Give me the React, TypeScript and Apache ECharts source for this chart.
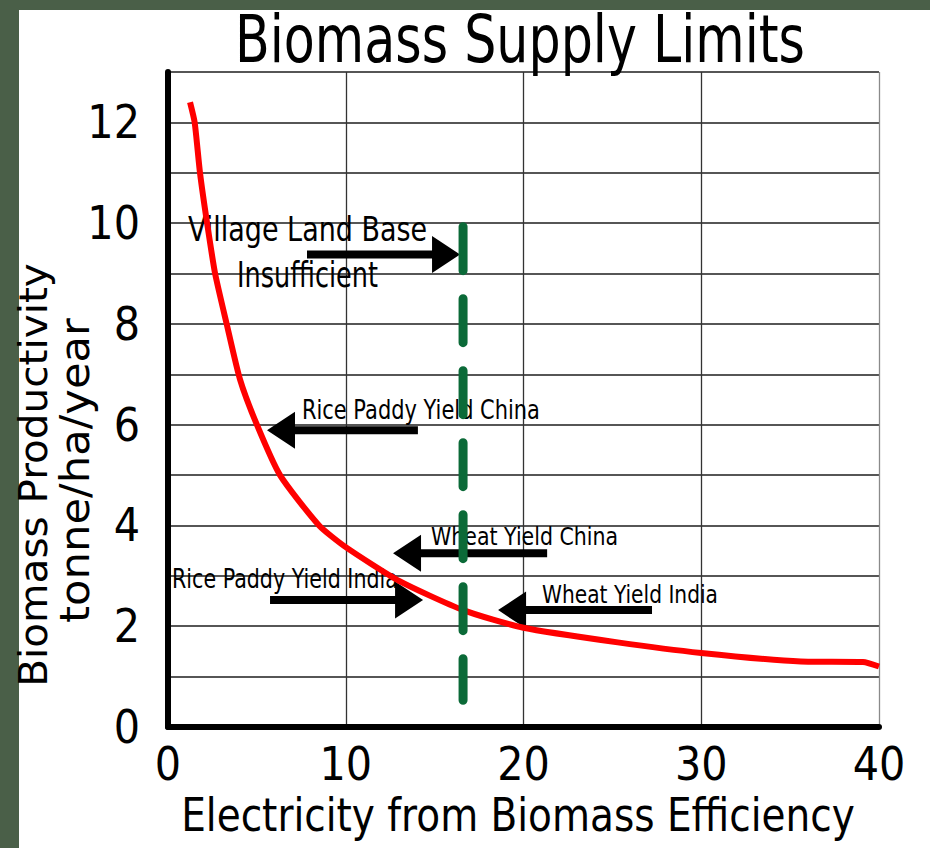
import { useEffect, useRef } from "react";
import * as echarts from "echarts";

// ---- data ----
const xTicks = [0, 10, 20, 30, 40];
const yTickLabels = [0, 2, 4, 6, 8, 10, 12];
const curveX = [1.24, 1.5, 1.8, 2.2, 2.65, 3.3, 4.05, 5.0, 6.3, 8.5, 10, 13, 16.6, 20, 25.3, 30, 35.6, 39.1, 40];
const curveY = [12.4, 12.0, 11.0, 10.0, 9.0, 8.0, 6.9, 6.0, 5.0, 4.0, 3.57, 2.9, 2.32, 1.97, 1.68, 1.47, 1.3, 1.29, 1.2];
const limitX = 16.6;
const limitY = [9.93, 0.53];
const arrowTailX = [7.82, 14.06, 21.33, 5.74, 27.23];
const arrowTipX = [16.43, 5.57, 12.66, 14.35, 18.57];
const arrowY = [9.38, 5.89, 3.45, 2.52, 2.32];
const noteText = [
  "Village Land Base",
  "Insufficient",
  "Rice Paddy Yield China",
  "Wheat Yield China",
  "Rice Paddy Yield India",
  "Wheat Yield India",
];
const noteX = [7.85, 7.85, 14.23, 20.06, 6.58, 25.99];
const noteY = [9.874, 8.97, 6.28, 3.78, 2.93, 2.64];

// ---- styles ----
const noteSize = [34, 35, 26, 25, 26, 25];
const noteWidth = [239, 141, 238, 187, 226, 176];
const FAMILY = "'DejaVu Sans', sans-serif";
const TICK_FAMILY = "'Liberation Sans Narrow', 'DejaVu Sans Condensed', 'Liberation Sans', sans-serif";

let ctx: CanvasRenderingContext2D | null = null;
function fit(text: string, size: number, width: number): number {
  if (!ctx) ctx = document.createElement("canvas").getContext("2d");
  if (!ctx) return 1;
  ctx.font = `${size}px ${FAMILY}`;
  const w = ctx.measureText(text).width;
  return w > 0 ? width / w : 1;
}

function textEl(text: string, x: number, y: number, size: number, width: number, rotation = 0) {
  return {
    type: "text",
    x,
    y,
    rotation,
    scaleX: fit(text, size, width),
    z: 100,
    silent: true,
    style: {
      text,
      font: `${size}px ${FAMILY}`,
      fill: "#000",
      align: "center",
      verticalAlign: "middle",
    },
  };
}

export default function App() {
  const ref = useRef<HTMLDivElement>(null);
  useEffect(() => {
    document.body.style.margin = "0";
    if (!ref.current) return;
    const chart = echarts.init(ref.current, null, { renderer: "svg" });
    const option: any = {
      animation: false,
      backgroundColor: "#4a5f48",
      grid: { left: 168, top: 72, right: 51, bottom: 121, containLabel: false },
      xAxis: {
        type: "value",
        min: xTicks[0],
        max: xTicks[xTicks.length - 1],
        interval: 10,
        axisLine: { show: true, onZero: false, lineStyle: { color: "#000", width: 6 } },
        axisTick: { show: false },
        axisLabel: {
          color: "#000",
          fontFamily: TICK_FAMILY,
          fontSize: 46,
          margin: 14,
        },
        splitLine: {
          show: true,
          lineStyle: { color: ["#333", "#333", "#333", "#333", "#8a8a8a"], width: 1.3 },
        },
      },
      yAxis: {
        type: "value",
        min: 0,
        max: 13,
        interval: 1,
        axisLine: { show: true, onZero: false, lineStyle: { color: "#000", width: 6 } },
        axisTick: { show: false },
        axisLabel: {
          color: "#000",
          fontFamily: TICK_FAMILY,
          fontSize: 46,
          margin: 28,
          formatter: (v: number) => (yTickLabels.indexOf(v) >= 0 ? String(v) : ""),
        },
        splitLine: { show: true, lineStyle: { color: "#1e1e1e", width: 1.5 } },
      },
      graphic: [
        {
          type: "rect",
          z: -100,
          silent: true,
          shape: { x: 19, y: 10, width: 911, height: 838 },
          style: { fill: "#fff" },
        },
        textEl("Biomass Supply Limits", 520, 39, 66, 570),
        textEl("Electricity from Biomass Efficiency", 518, 815, 47, 674),
        textEl("Biomass Productivity", 33.5, 475, 39, 424, Math.PI / 2),
        textEl("tonne/ha/year", 75, 470.5, 40, 305, Math.PI / 2),
      ],
      series: [
        {
          type: "custom",
          name: "notes",
          coordinateSystem: "cartesian2d",
          clip: false,
          z: 2,
          silent: true,
          data: noteX.map((x, i) => [x, noteY[i]]),
          renderItem: (params: any, api: any) => {
            const i = params.dataIndex;
            const p = api.coord([api.value(0), api.value(1)]);
            return {
              type: "text",
              x: p[0],
              y: p[1],
              scaleX: fit(noteText[i], noteSize[i], noteWidth[i]),
              style: {
                text: noteText[i],
                font: `${noteSize[i]}px ${FAMILY}`,
                fill: "#000",
                align: "center",
                verticalAlign: "middle",
              },
            };
          },
        },
        {
          type: "custom",
          name: "arrows",
          coordinateSystem: "cartesian2d",
          clip: false,
          z: 3,
          silent: true,
          data: arrowTailX.map((x, i) => [x, arrowY[i], arrowTipX[i]]),
          encode: { x: [0, 2], y: 1 },
          renderItem: (params: any, api: any) => {
            const a = api.coord([api.value(0), api.value(1)]);
            const b = api.coord([api.value(2), api.value(1)]);
            const dx = b[0] - a[0];
            const dy = b[1] - a[1];
            const len = Math.hypot(dx, dy) || 1;
            const ux = dx / len;
            const uy = dy / len;
            const nx = -uy;
            const ny = ux;
            const hl = 28;
            const hw = 18.5;
            const sw = 4;
            const bx = b[0] - ux * hl;
            const by = b[1] - uy * hl;
            const points = [
              [a[0] + nx * sw, a[1] + ny * sw],
              [bx + nx * sw, by + ny * sw],
              [bx + nx * hw, by + ny * hw],
              [b[0], b[1]],
              [bx - nx * hw, by - ny * hw],
              [bx - nx * sw, by - ny * sw],
              [a[0] - nx * sw, a[1] - ny * sw],
            ];
            return { type: "polygon", shape: { points }, style: { fill: "#000" } };
          },
        },
        {
          type: "line",
          name: "Biomass productivity",
          data: curveX.map((x, i) => [x, curveY[i]]),
          showSymbol: false,
          smooth: 0.2,
          z: 4,
          lineStyle: { color: "#ff0000", width: 6 },
        },
        {
          type: "line",
          name: "Village limit",
          data: limitY.map((y) => [limitX, y]),
          showSymbol: false,
          z: 5,
          lineStyle: { color: "#0b6a38", width: 9, type: [44, 28], cap: "round" },
        },
      ],
    };
    chart.setOption(option);
    return () => chart.dispose();
  }, []);
  return <div ref={ref} style={{ width: 930, height: 848 }} />;
}
